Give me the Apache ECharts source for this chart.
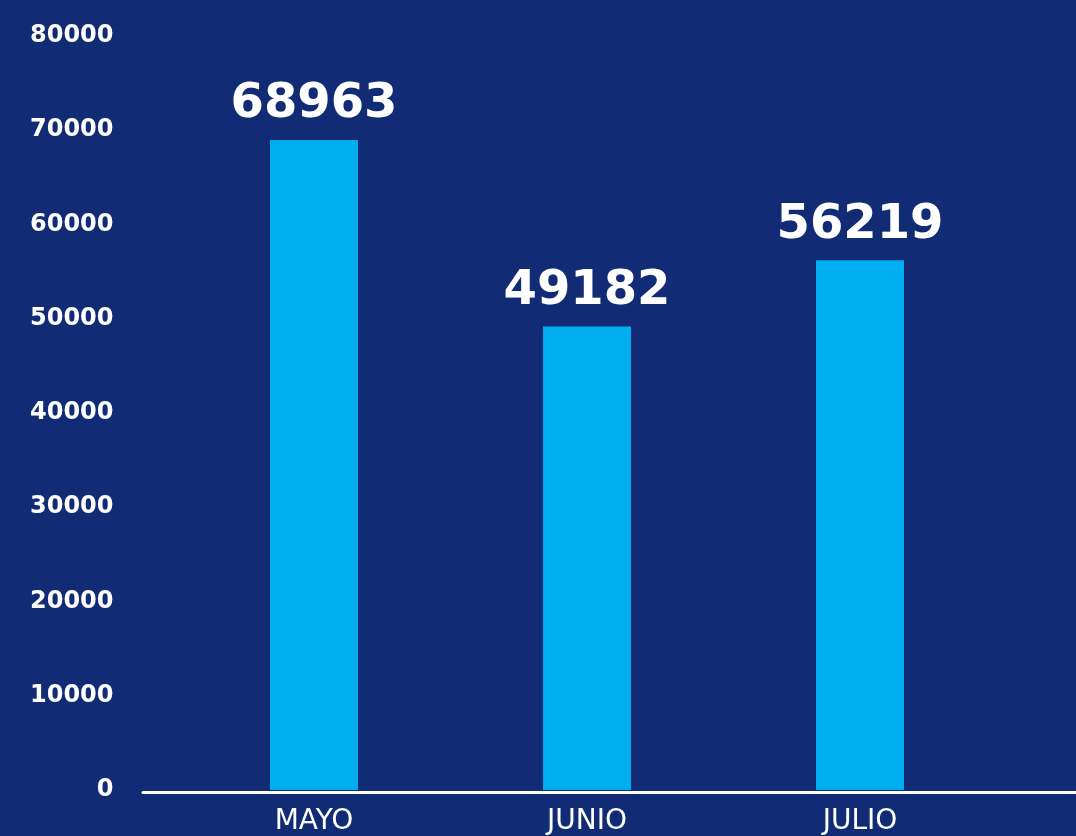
<!DOCTYPE html>
<html>
<head>
<meta charset="utf-8">
<script src="https://cdn.jsdelivr.net/npm/echarts@6/dist/echarts.min.js"></script>
<style>
    html, body { margin: 0; padding: 0; background: #112c74; }
    #chart { width: 1076px; height: 836px; }
</style>
</head>
<body>
<div id="chart"></div>
<script>
const months = ['MAYO', 'JUNIO', 'JULIO']
const visits = [68963, 49182, 56219]
const yTicks = [0, 10000, 20000, 30000, 40000, 50000, 60000, 70000, 80000]

const chart = echarts.init(document.getElementById('chart'))
chart.setOption({
    backgroundColor: '#112c74',
    animation: false,
    grid: [
        { left: 177.5, right: 79.5, top: 36, bottom: 44 },
        { left: 143, right: 0, top: 36, bottom: 44 }
    ],
    xAxis: [
        {
            type: 'category',
            data: months,
            gridIndex: 0,
            axisLine: { show: false },
            axisTick: { show: false },
            axisLabel: {
                color: '#ffffff',
                fontFamily: 'DejaVu Sans',
                fontSize: 28,
                margin: 18
            }
        },
        {
            type: 'value',
            gridIndex: 1,
            min: 0,
            max: 1,
            axisLine: { show: true, lineStyle: { color: '#ffffff', width: 3 } },
            axisTick: { show: false },
            axisLabel: { show: false },
            splitLine: { show: false }
        }
    ],
    yAxis: [
        {
            type: 'value',
            gridIndex: 0,
            min: 0,
            max: yTicks[yTicks.length - 1],
            interval: 10000,
            axisLine: { show: false },
            axisTick: { show: false },
            splitLine: { show: false },
            axisLabel: {
                color: '#ffffff',
                fontFamily: 'DejaVu Sans',
                fontWeight: 'bold',
                fontSize: 24,
                margin: 64,
                formatter: (v) => String(v)
            }
        },
        {
            type: 'value',
            gridIndex: 1,
            show: false
        }
    ],
    series: [
        {
            type: 'bar',
            data: visits,
            barWidth: 88,
            itemStyle: { color: '#00adee' },
            z: 3,
            label: {
                show: true,
                position: 'top',
                distance: 11,
                color: '#ffffff',
                fontFamily: 'DejaVu Sans',
                fontWeight: 'bold',
                fontSize: 48
            }
        }
    ]
})
window.addEventListener('resize', () => {
    chart.resize()
})
</script>
</body>
</html>
